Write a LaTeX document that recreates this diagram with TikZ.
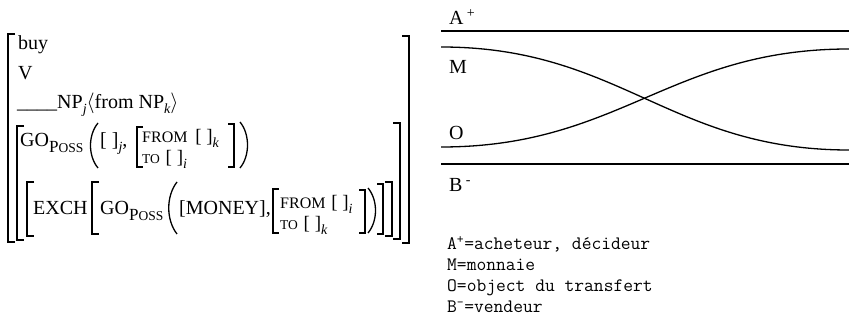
\documentclass[tikz,border=0pt]{standalone}
\usepackage{fontspec}
\setmainfont{Liberation Serif}
\setmonofont{Latin Modern Mono}
\usetikzlibrary{positioning}

% small helpers for subscripts and small capitals
\newcommand\sub[1]{\raisebox{-5pt}{\fontsize{14}{14}\selectfont\itshape #1}}
\newcommand\poss{\raisebox{-6pt}{\fontsize{17}{17}\selectfont P\fontsize{13.5}{14}\selectfont OSS}}
\newcommand\fromsc{{\fontsize{16}{16}\selectfont FROM}}
\newcommand\tosc{{\fontsize{13.5}{14}\selectfont TO}}

\begin{document}
\begin{tikzpicture}[x=1pt, y=-1pt,
    every node/.style={inner sep=0pt, anchor=base west, font=\fontsize{20}{24}\selectfont},
    frto/.style={font=\fontsize{19}{20}\selectfont},
    legend/.style={font=\ttfamily\fontsize{19}{22}\selectfont},
    delim/.style={line width=1.3pt},
    band/.style={line width=1.3pt}
]
    \useasboundingbox (0,0) rectangle (849,320);

    % Lexical entry (left)
    \node (word) at (18,50) {buy};
    \node (cat) at (18,80) {V};
    \node (subcat) at (17,109) {\_\_\_\_NP\sub{j}$\langle$from NP\sub{k}$\rangle$};

    \node (go1) at (20,147) {GO\poss};
    \node (theme1) at (100,147) {[ ]\sub{j},};
    \node[frto] (from1) at (142,143) {\fromsc\hspace{3pt} [ ]\sub{k}};
    \node[frto] (to1) at (142,164) {\tosc\hspace{1pt} [ ]\sub{i}};

    \node (exch) at (33,215) {EXCH};
    \node (go2) at (100,215) {GO\poss};
    \node (money) at (179,215) {[MONEY],};
    \node[frto] (from2) at (280,209) {\fromsc\hspace{1pt} [ ]\sub{i}};
    \node[frto] (to2) at (280,230) {\tosc\hspace{1pt} [ ]\sub{k}};

    % Brackets and parentheses
    \draw[delim] (15,34) -- (8,34) -- (8,242) -- (15,242);
    \draw[delim] (402,36) -- (409,36) -- (409,243) -- (402,243);
    \draw[delim] (24,126) -- (17,126) -- (17,240) -- (24,240);
    \draw[delim] (393,123) -- (400,123) -- (400,239) -- (393,239);
    \draw[delim] (34,182) -- (27,182) -- (27,236) -- (34,236);
    \draw[delim] (385,182) -- (392,182) -- (392,236) -- (385,236);
    \draw[delim] (99,182) -- (92,182) -- (92,234) -- (99,234);
    \draw[delim] (377,184) -- (383,184) -- (383,234) -- (377,234);

    \draw[delim] (98,123) .. controls (88,135) and (88,156) .. (98,168);
    \draw[delim] (240,122) .. controls (250,134) and (250,156) .. (240,168);
    \draw[delim] (177,182) .. controls (166,196) and (166,220) .. (177,234);
    \draw[delim] (368,188) .. controls (378,200) and (378,221) .. (368,233);

    \draw[delim] (143,127) -- (137,127) -- (137,167) -- (143,167);
    \draw[delim] (228,124) -- (234,124) -- (234,167) -- (228,167);
    \draw[delim] (279,189) -- (273,189) -- (273,233) -- (279,233);
    \draw[delim] (359,190) -- (365,190) -- (365,233) -- (359,233);

    % Participant bands (right)
    \node (aplus) at (449,25) {A\,\textsuperscript{+}};
    \node (money-lab) at (449,74) {M};
    \node (object-lab) at (449,140) {O};
    \node (bminus) at (449,192) {B\,\textsuperscript{-}};

    \draw[band] (441,31) -- (849,31);
    \draw[band] (441,47) .. controls (620,47) and (670,150) .. (849,150);
    \draw[band] (441,147) .. controls (620,147) and (670,49) .. (849,49);
    \draw[band] (441,164) -- (849,164);

    % Legend
    \node[legend] (leg-a) at (447,250) {A\textsuperscript{+}=acheteur, décideur};
    \node[legend] (leg-m) at (447,271) {M=monnaie};
    \node[legend] (leg-o) at (447,292) {O=object du transfert};
    \node[legend] (leg-b) at (447,313) {B\textsuperscript{-}=vendeur};

\end{tikzpicture}
\end{document}
